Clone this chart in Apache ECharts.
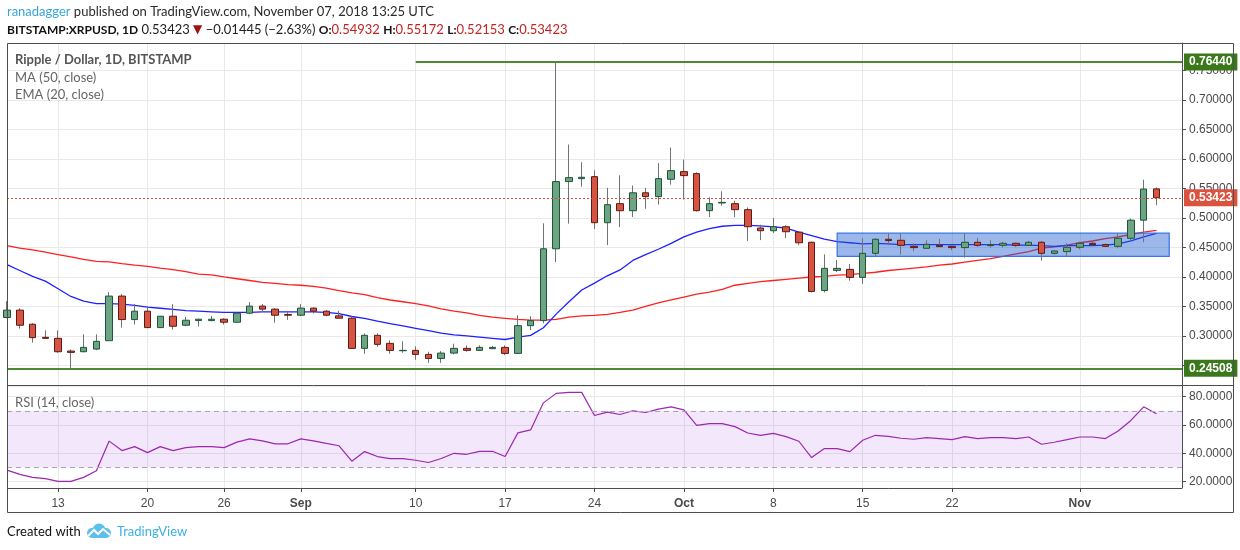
<!DOCTYPE html>
<html>
<head>
<meta charset="utf-8">
<script src="https://cdn.jsdelivr.net/npm/echarts@6/dist/echarts.min.js"></script>
<style>
html,body{margin:0;padding:0;background:#fff;}
#chart{width:1240px;height:550px;}
</style>
</head>
<body>
<div id="chart"></div>
<script>
// ---------- categories (daily, Aug 9 2018 .. Nov 9 2018; last two days are the empty right margin) ----------
const firstDay = [2018, 7, 9];
const dayCount = 93;
const dates = [];
for (let k = 0; k < dayCount; k++) {
  dates.push(new Date(Date.UTC(firstDay[0], firstDay[1], firstDay[2] + k)).toISOString().slice(0, 10));
}

// ---------- time-axis tick labels ----------
const tickDates  = ['2018-08-13','2018-08-20','2018-08-26','2018-09-01','2018-09-10','2018-09-17','2018-09-24','2018-10-01','2018-10-08','2018-10-15','2018-10-22','2018-11-01'];
const tickLabels = ['13','20','26','Sep','10','17','24','Oct','8','15','22','Nov'];

// ---------- XRP/USD daily candles ----------
const openP = [0.3313,0.3438,0.3199,0.2977,0.2960,0.2744,0.2733,0.2778,0.2920,0.3676,
  0.3278,0.3420,0.3142,0.3335,0.3182,0.3261,0.3261,0.3284,0.3233,0.3386,
  0.3506,0.3455,0.3364,0.3352,0.3472,0.3420,0.3341,0.3301,0.2790,0.3011,
  0.2875,0.2750,0.2756,0.2688,0.2619,0.2710,0.2790,0.2756,0.2784,0.2807,
  0.2705,0.3175,0.3260,0.4478,0.5617,0.5667,0.5701,0.4920,0.5243,0.5123,
  0.5427,0.5362,0.5656,0.5786,0.5752,0.5124,0.5254,0.5243,0.5141,0.4830,
  0.4784,0.4852,0.4760,0.4588,0.3772,0.4112,0.4129,0.3993,0.4401,0.4639,
  0.4622,0.4520,0.4486,0.4537,0.4520,0.4498,0.4588,0.4532,0.4537,0.4571,
  0.4537,0.4588,0.4401,0.4430,0.4503,0.4571,0.4549,0.4520,0.4656,0.4963,
  0.54932];
const closeP = [0.3438,0.3182,0.2972,0.2960,0.2733,0.2722,0.2807,0.2909,0.3676,0.3278,
  0.3420,0.3142,0.3335,0.3165,0.3267,0.3284,0.3284,0.3233,0.3386,0.3506,
  0.3455,0.3352,0.3352,0.3472,0.3420,0.3352,0.3301,0.2790,0.3011,0.2858,
  0.2756,0.2756,0.2688,0.2619,0.2710,0.2790,0.2756,0.2807,0.2807,0.2705,
  0.3175,0.3260,0.4478,0.5617,0.5684,0.5690,0.4920,0.5226,0.5123,0.5427,
  0.5362,0.5667,0.5803,0.5718,0.5124,0.5243,0.5265,0.5141,0.4852,0.4784,
  0.4852,0.4767,0.4580,0.3755,0.4146,0.4146,0.3993,0.4401,0.4639,0.4617,
  0.4537,0.4498,0.4554,0.4515,0.4498,0.4588,0.4537,0.4549,0.4571,0.4537,
  0.4588,0.4401,0.4441,0.4503,0.4571,0.4549,0.4520,0.4656,0.4963,0.5490,
  0.53423];
const lowP = [0.3300,0.3125,0.2886,0.2955,0.2716,0.2455,0.2725,0.2761,0.2915,0.3142,
  0.3193,0.3135,0.3135,0.3108,0.3165,0.3160,0.3250,0.3193,0.3230,0.3370,
  0.3415,0.3227,0.3273,0.3335,0.3380,0.3335,0.3300,0.2785,0.2699,0.2818,
  0.2699,0.2716,0.2597,0.2545,0.2545,0.2688,0.2733,0.2756,0.2784,0.2676,
  0.2700,0.3100,0.3215,0.4252,0.4904,0.5530,0.4812,0.4540,0.4846,0.5015,
  0.5157,0.5226,0.5565,0.5311,0.5110,0.5015,0.5209,0.5015,0.4608,0.4625,
  0.4744,0.4659,0.4535,0.3738,0.3738,0.4084,0.3937,0.3885,0.4356,0.4537,
  0.4379,0.4435,0.4486,0.4515,0.4452,0.4328,0.4509,0.4498,0.4498,0.4509,
  0.4537,0.4277,0.4379,0.4350,0.4469,0.4537,0.4509,0.4486,0.4622,0.4588,
  0.52153];
const highP = [0.3590,0.3470,0.3216,0.3097,0.3097,0.2773,0.3028,0.3028,0.3744,0.3710,
  0.3540,0.3506,0.3340,0.3540,0.3324,0.3290,0.3340,0.3300,0.3398,0.3574,
  0.3540,0.3472,0.3426,0.3540,0.3483,0.3438,0.3426,0.3341,0.3045,0.3045,
  0.2926,0.2909,0.2824,0.2733,0.2744,0.2869,0.2841,0.2841,0.2830,0.2841,
  0.3350,0.3335,0.4909,0.7644,0.6245,0.5945,0.5809,0.5510,0.5724,0.5550,
  0.5509,0.5929,0.6194,0.5990,0.5775,0.5350,0.5452,0.5294,0.5180,0.4886,
  0.4999,0.4875,0.4775,0.4600,0.4384,0.4288,0.4220,0.4656,0.4656,0.4741,
  0.4730,0.4571,0.4622,0.4645,0.4532,0.4741,0.4662,0.4622,0.4594,0.4583,
  0.4611,0.4611,0.4441,0.4571,0.4600,0.4611,0.4566,0.4741,0.4991,0.5649,
  0.55172];

// ---------- indicators ----------
const ma50 = [0.453,0.449,0.446,0.442,0.438,0.434,0.430,0.4265,0.4255,0.4225,
  0.420,0.418,0.415,0.4125,0.409,0.405,0.4035,0.400,0.397,0.394,
  0.391,0.389,0.387,0.386,0.384,0.381,0.377,0.373,0.370,0.365,
  0.361,0.358,0.355,0.351,0.346,0.342,0.339,0.335,0.332,0.330,
  0.328,0.327,0.327,0.328,0.332,0.334,0.335,0.3365,0.340,0.344,
  0.350,0.356,0.361,0.366,0.371,0.3745,0.379,0.386,0.389,0.392,
  0.394,0.396,0.398,0.400,0.401,0.403,0.404,0.406,0.408,0.411,
  0.413,0.415,0.417,0.420,0.422,0.425,0.428,0.431,0.435,0.439,
  0.443,0.449,0.451,0.454,0.458,0.461,0.465,0.468,0.472,0.476,0.479];
const ema20 = [0.421,0.411,0.401,0.393,0.380,0.367,0.359,0.355,0.355,0.354,
  0.352,0.349,0.347,0.345,0.343,0.342,0.341,0.340,0.340,0.340,
  0.341,0.341,0.341,0.341,0.341,0.340,0.338,0.333,0.330,0.325,
  0.321,0.317,0.313,0.309,0.305,0.302,0.300,0.298,0.296,0.294,
  0.298,0.301,0.314,0.337,0.358,0.378,0.3895,0.402,0.412,0.428,
  0.438,0.447,0.457,0.468,0.476,0.482,0.486,0.4875,0.4875,0.4865,
  0.485,0.483,0.476,0.470,0.464,0.460,0.458,0.456,0.457,0.456,
  0.455,0.455,0.455,0.455,0.455,0.455,0.455,0.455,0.455,0.454,
  0.454,0.453,0.452,0.453,0.453,0.453,0.454,0.456,0.461,0.468,0.474];
const rsi14 = [28.1,25.1,23.0,22.1,20.2,20.2,23.0,27.7,48.6,41.9,
  44.7,40.5,44.7,41.9,44.0,44.7,44.7,44.0,47.9,50.2,
  48.8,46.7,46.7,50.2,48.8,47.0,45.3,34.4,41.2,37.7,
  36.3,36.3,35.1,33.5,36.3,40.0,39.3,41.4,41.4,37.7,
  54.4,56.5,75.6,82.3,83.0,83.0,66.7,69.1,67.4,70.0,
  68.8,71.2,72.8,70.7,59.7,60.9,60.9,58.8,54.3,52.7,
  54.1,51.8,48.5,37.0,43.3,43.3,41.2,49.2,52.7,52.0,
  50.6,49.9,51.1,50.4,49.6,51.8,50.4,51.1,51.1,50.4,
  51.5,46.4,47.8,49.6,51.5,51.5,50.4,55.7,63.2,72.8,67.9];

// ---------- drawn levels ----------
const resistance = 0.76440;
const resistanceFrom = '2018-09-10';
const support = 0.24508;
const lastPrice = 0.53423;
const rangeBox = { from: '2018-10-13', to: '2018-11-08', top: 0.4742, bottom: 0.4350 };
const rsiBand = [30, 70];

// ---------- build ----------
const tickSet = new Set(tickDates);
const tickText = {};
tickDates.forEach((d, k) => { tickText[d] = tickLabels[k]; });
const isTick = (idx, val) => tickSet.has(val);

const wickData = openP.map((o, k) => [o, closeP[k], lowP[k], highP[k]]);
const bodyData = openP.map((o, k) => [o, closeP[k], Math.min(o, closeP[k]), Math.max(o, closeP[k])]);

const AXIS_FONT = 'Liberation Sans, Arial, sans-serif';
const TXT_FONT = 'Lato, Open Sans, sans-serif';
const gridColor = '#e9e9e9';
const frameColor = '#4d4d4d';

const chart = echarts.init(document.getElementById('chart'), null, { renderer: 'canvas' });

const option = {
  animation: false,
  backgroundColor: '#ffffff',
  grid: [
    { left: 7, top: 43, width: 1175, height: 342 },
    { left: 7, top: 386, width: 1175, height: 102 }
  ],
  xAxis: [
    {
      type: 'category', gridIndex: 0, data: dates, boundaryGap: false,
      axisLine: { show: false }, axisTick: { show: false }, axisLabel: { show: false },
      splitLine: { show: true, interval: isTick, lineStyle: { color: gridColor, width: 1 } }
    },
    {
      type: 'category', gridIndex: 1, data: dates, boundaryGap: false,
      axisLine: { show: false },
      axisTick: { show: true, interval: isTick, length: 4, lineStyle: { color: frameColor } },
      axisLabel: {
        show: true, interval: isTick, margin: 10,
        formatter: v => {
          const t = tickText[v] || '';
          return /^[A-Z]/.test(t) ? '{m|' + t + '}' : t;
        },
        color: '#4a4a4a', fontSize: 12, fontFamily: AXIS_FONT,
        rich: { m: { fontWeight: 'bold', color: '#4a4a4a', fontSize: 12, fontFamily: AXIS_FONT } }
      },
      splitLine: { show: true, interval: isTick, lineStyle: { color: gridColor, width: 1 } }
    }
  ],
  yAxis: [
    {
      type: 'value', gridIndex: 0, position: 'right', min: 0.2169, max: 0.7966, splitNumber: 11,
      axisLine: { show: true, lineStyle: { color: frameColor } },
      axisTick: { show: true, length: 4, lineStyle: { color: frameColor } },
      axisLabel: {
        formatter: v => v.toFixed(5), color: '#4a4a4a', fontSize: 12, fontFamily: AXIS_FONT,
        margin: 7, showMinLabel: false, showMaxLabel: false
      },
      splitLine: { show: true, lineStyle: { color: gridColor, width: 1 } }
    },
    {
      type: 'value', gridIndex: 1, position: 'right', min: 15.5, max: 87.5, splitNumber: 4,
      axisLine: { show: true, lineStyle: { color: frameColor } },
      axisTick: { show: true, length: 4, lineStyle: { color: frameColor } },
      axisLabel: {
        formatter: v => v.toFixed(4), color: '#4a4a4a', fontSize: 12, fontFamily: AXIS_FONT,
        margin: 7, showMinLabel: false, showMaxLabel: false
      },
      splitLine: { show: true, lineStyle: { color: gridColor, width: 1 } }
    }
  ],
  series: [
    {
      name: 'MA (50, close)', type: 'line', xAxisIndex: 0, yAxisIndex: 0, data: ma50,
      showSymbol: false, symbol: 'none', z: 0.5, silent: true,
      lineStyle: { color: '#ff1f1f', width: 1.3 }
    },
    {
      name: 'EMA (20, close)', type: 'line', xAxisIndex: 0, yAxisIndex: 0, data: ema20,
      showSymbol: false, symbol: 'none', z: 0.5, silent: true,
      lineStyle: { color: '#1f1fff', width: 1.3 }
    },
    {
      name: 'wicks', type: 'candlestick', xAxisIndex: 0, yAxisIndex: 0, data: wickData,
      barWidth: 1, silent: true, clip: true,
      itemStyle: { color: '#737375', color0: '#737375', borderColor: '#737375', borderColor0: '#737375', borderWidth: 1 },
      markArea: {
        silent: true, z: 1,
        itemStyle: { color: 'rgba(30,93,208,0.44)', borderColor: 'rgba(45,110,228,0.95)', borderWidth: 1.2 },
        data: [[{ coord: [rangeBox.from, rangeBox.top] }, { coord: [rangeBox.to, rangeBox.bottom] }]]
      },
      markLine: {
        silent: true, symbol: ['none', 'none'], precision: 5,
        data: [
          [
            { coord: [resistanceFrom, resistance],
              lineStyle: { color: '#4b8a30', width: 2.2, type: 'solid' },
              label: { show: true, position: 'end', distance: 2, formatter: resistance.toFixed(5),
                backgroundColor: '#3b781c', color: '#fff', fontWeight: 'bold', fontSize: 12,
                fontFamily: AXIS_FONT, padding: [3, 5, 2, 5] } },
            { coord: [dates[dates.length - 1], resistance] }
          ],
          { yAxis: support,
            lineStyle: { color: '#4b8a30', width: 2.2, type: 'solid' },
            label: { show: true, position: 'end', distance: 2, formatter: support.toFixed(5),
              backgroundColor: '#3b781c', color: '#fff', fontWeight: 'bold', fontSize: 12,
              fontFamily: AXIS_FONT, padding: [3, 5, 2, 5] } },
          { yAxis: lastPrice,
            lineStyle: { color: '#d2503c', width: 1, type: [2, 2] },
            label: { show: true, position: 'end', distance: 2, formatter: lastPrice.toFixed(5),
              backgroundColor: '#d9533f', color: '#fff', fontWeight: 'bold', fontSize: 12,
              fontFamily: AXIS_FONT, padding: [3, 5, 2, 5] } }
        ]
      }
    },
    {
      name: 'Ripple / Dollar', type: 'candlestick', xAxisIndex: 0, yAxisIndex: 0, data: bodyData,
      barWidth: 7, silent: true, clip: true,
      itemStyle: { color: '#6ba583', color0: '#d75442', borderColor: '#225437', borderColor0: '#5b1a13', borderWidth: 1 }
    },
    {
      name: 'RSI (14, close)', type: 'line', xAxisIndex: 1, yAxisIndex: 1, data: rsi14,
      showSymbol: false, symbol: 'none', silent: true,
      lineStyle: { color: '#9c27b0', width: 1.2 },
      markArea: {
        silent: true, z: 1,
        itemStyle: { color: 'rgba(155,60,225,0.12)' },
        data: [[{ yAxis: rsiBand[0] }, { yAxis: rsiBand[1] }]]
      },
      markLine: {
        silent: true, symbol: ['none', 'none'], label: { show: false },
        lineStyle: { color: '#aaa3b3', width: 1, type: [5, 4] },
        data: [{ yAxis: rsiBand[0] }, { yAxis: rsiBand[1] }]
      }
    }
  ],
  graphic: [
    { type: 'text', x: 7, y: 12, style: {
        text: '{a|ranadagger} {b|published on TradingView.com, November 07, 2018 13:25 UTC}',
        verticalAlign: 'middle',
        rich: {
          a: { fill: '#3aa4dc', fontSize: 13, fontFamily: TXT_FONT },
          b: { fill: '#2a2a2a', fontSize: 13, fontFamily: TXT_FONT }
        } } },
    { type: 'text', x: 7, y: 30, style: {
        text: '{k|BITSTAMP:XRPUSD, 1D} {n|0.53423} {r|▼} {n|−0.01445 (−2.63%)} {k|O:}{v|0.54932} {k|H:}{v|0.55172} {k|L:}{v|0.52153} {k|C:}{v|0.53423}',
        verticalAlign: 'middle',
        rich: {
          k: { fill: '#111', fontSize: 12, fontWeight: 'bold', fontFamily: TXT_FONT },
          n: { fill: '#222', fontSize: 13, fontFamily: TXT_FONT },
          r: { fill: '#a01010', fontSize: 12, fontFamily: 'DejaVu Sans, sans-serif' },
          v: { fill: '#c22222', fontSize: 13, fontFamily: TXT_FONT }
        } } },
    { type: 'text', x: 15, y: 60, z: 10, style: { text: 'Ripple / Dollar, 1D, BITSTAMP', verticalAlign: 'middle',
        fill: '#555', font: 'bold 13px ' + TXT_FONT } },
    { type: 'text', x: 15, y: 78, z: 10, style: { text: 'MA (50, close)', verticalAlign: 'middle',
        fill: '#666', font: '13px ' + TXT_FONT } },
    { type: 'text', x: 15, y: 95, z: 10, style: { text: 'EMA (20, close)', verticalAlign: 'middle',
        fill: '#666', font: '13px ' + TXT_FONT } },
    { type: 'text', x: 15, y: 403, z: 10, style: { text: 'RSI (14, close)', verticalAlign: 'middle',
        fill: '#666', font: '13px ' + TXT_FONT } },
    // frame
    { type: 'rect', z: 20, silent: true, shape: { x: 7.5, y: 43.5, width: 1226, height: 469 },
      style: { fill: 'none', stroke: frameColor, lineWidth: 1 } },
    { type: 'line', z: 20, silent: true, shape: { x1: 7, y1: 385.5, x2: 1233, y2: 385.5 },
      style: { stroke: frameColor, lineWidth: 1 } },
    { type: 'line', z: 20, silent: true, shape: { x1: 7, y1: 488.5, x2: 1182, y2: 488.5 },
      style: { stroke: frameColor, lineWidth: 1 } },
    // footer
    { type: 'text', x: 7, y: 532, style: { text: 'Created with', verticalAlign: 'middle',
        fill: '#111', font: '13px ' + TXT_FONT } },
    { type: 'group', x: 87, y: 523, silent: true, children: [
      { type: 'circle', shape: { cx: 5, cy: 10, r: 5 }, style: { fill: '#5cc0ec' } },
      { type: 'circle', shape: { cx: 12, cy: 7, r: 6.5 }, style: { fill: '#5cc0ec' } },
      { type: 'circle', shape: { cx: 19, cy: 10, r: 5 }, style: { fill: '#5cc0ec' } },
      { type: 'rect', shape: { x: 5, y: 9, width: 14, height: 6 }, style: { fill: '#5cc0ec' } },
      { type: 'polyline', shape: { points: [[1, 13], [7, 7], [11, 11], [16, 6], [23, 12]] },
        style: { stroke: '#ffffff', lineWidth: 2, fill: 'none' } }
    ] },
    { type: 'text', x: 117, y: 532, style: { text: 'TradingView', verticalAlign: 'middle',
        fill: '#3cb0e6', font: '13px ' + TXT_FONT } }
  ]
};

chart.setOption(option);
</script>
</body>
</html>
